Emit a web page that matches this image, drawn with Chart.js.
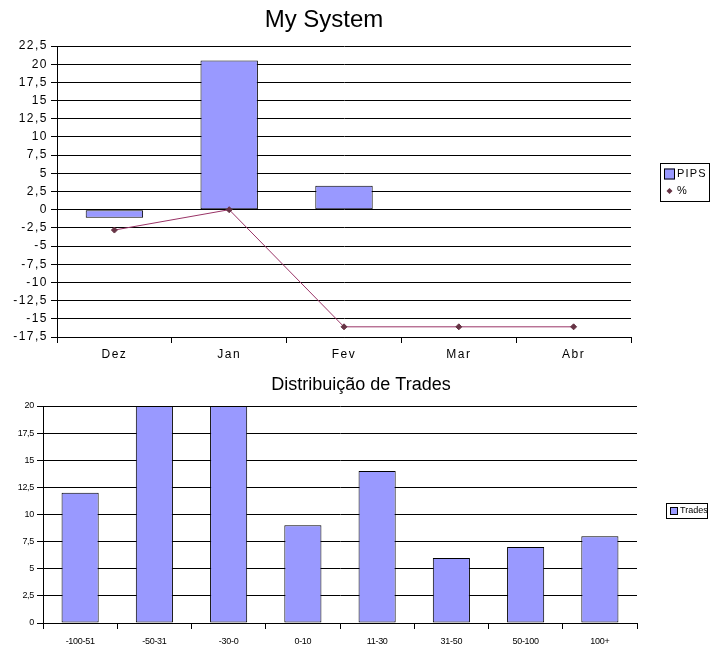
<!DOCTYPE html>
<html>
<head>
<meta charset="utf-8">
<title>My System</title>
<script src="https://cdn.jsdelivr.net/npm/chart.js@4.4.1/dist/chart.umd.min.js"></script>
<style>
    html, body { margin: 0; padding: 0; background: #fff; }
    canvas { position: absolute; left: 0; }
    #systemChart { top: 0; }
    #tradesChart { top: 370px; }
</style>
</head>
<body>
<canvas id="systemChart" width="718" height="370"></canvas>
<canvas id="tradesChart" width="718" height="287"></canvas>
<script>
// Data
const months = ['Dez', 'Jan', 'Fev', 'Mar', 'Abr'];
const pipsValues = [-1.1, 20.5, 3.3, 0, 0];
const percentValues = [-2.8, 0, -16.1, -16.1, -16.1];
const systemTicks = [-17.5, -15, -12.5, -10, -7.5, -5, -2.5, 0, 2.5, 5, 7.5, 10, 12.5, 15, 17.5, 20, 22.5];

const tradeRanges = ['-100-51', '-50-31', '-30-0', '0-10', '11-30', '31-50', '50-100', '100+'];
const tradeCounts = [12, 20, 20, 9, 14, 6, 7, 8];
const tradeTicks = [0, 2.5, 5, 7.5, 10, 12.5, 15, 17.5, 20];

const FONT = '"Liberation Sans", Arial, sans-serif';
const BAR_FILL = '#9999ff';
const LINE_COLOR = '#993366';
const MARKER_COLOR = '#663344';

Chart.defaults.font.family = FONT;
Chart.defaults.color = '#000';

// comma decimals, like the original sheet
const fmt = v => String(v).replace('.', ',');

// Title drawn at a fixed spot
const titlePlugin = {
    id: 'fixedTitle',
    afterDraw(chart, args, opts) {
        const ctx = chart.ctx;
        ctx.save();
        ctx.letterSpacing = '0px';
        ctx.font = `${opts.size}px ${FONT}`;
        ctx.fillStyle = '#000';
        ctx.textAlign = 'center';
        ctx.textBaseline = 'middle';
        ctx.fillText(opts.text, opts.x, opts.y);
        ctx.restore();
    }
};

// Spread-out axis text (the old sheet stretches its labels)
const tickSpacingPlugin = {
    id: 'tickSpacing',
    beforeDraw(chart, args, opts) {
        chart.ctx.letterSpacing = opts.spacing;
    },
    beforeDatasetsDraw(chart) {
        chart.ctx.letterSpacing = '0px';
    }
};

// Boxed legend at the right, like the spreadsheet one
const boxLegendPlugin = {
    id: 'boxLegend',
    afterDraw(chart, args, opts) {
        const ctx = chart.ctx;
        ctx.save();
        ctx.fillStyle = '#fff';
        ctx.fillRect(opts.x, opts.y, opts.w, opts.h);
        ctx.strokeStyle = '#000';
        ctx.lineWidth = 1;
        ctx.strokeRect(opts.x + 0.5, opts.y + 0.5, opts.w - 1, opts.h - 1);
        ctx.font = `${opts.size}px ${FONT}`;
        ctx.letterSpacing = opts.spacing;
        ctx.textBaseline = 'middle';
        ctx.textAlign = 'left';
        chart.data.datasets.forEach((ds, i) => {
            const cy = opts.y + opts.first + i * opts.row;
            const sx = opts.x + 4;
            if (ds.type === 'line') {
                const r = 3;
                const cx = sx + opts.box / 2;
                ctx.fillStyle = MARKER_COLOR;
                ctx.beginPath();
                ctx.moveTo(cx, cy - r);
                ctx.lineTo(cx + r, cy);
                ctx.lineTo(cx, cy + r);
                ctx.lineTo(cx - r, cy);
                ctx.closePath();
                ctx.fill();
            } else {
                ctx.fillStyle = BAR_FILL;
                ctx.fillRect(sx, cy - opts.box / 2, opts.box, opts.box);
                ctx.strokeStyle = '#000';
                ctx.strokeRect(sx + 0.5, cy - opts.box / 2 + 0.5, opts.box - 1, opts.box - 1);
            }
            ctx.fillStyle = '#000';
            ctx.fillText(ds.label, sx + opts.box + 2, cy);
        });
        ctx.restore();
    }
};

function valueAxis(ticks, width, fontSize) {
    return {
        min: ticks[0],
        max: ticks[ticks.length - 1],
        afterBuildTicks: scale => { scale.ticks = ticks.map(v => ({ value: v })); },
        afterFit: scale => { scale.width = width; },
        ticks: {
            callback: v => fmt(v),
            font: { size: fontSize },
            padding: 3,
            color: '#000'
        },
        grid: {
            color: '#000',
            lineWidth: 1,
            tickLength: 6
        },
        border: { display: true, color: '#000', width: 1 }
    };
}

function categoryAxis(height, fontSize, pad) {
    return {
        afterFit: scale => { scale.height = height; },
        ticks: {
            font: { size: fontSize },
            padding: pad,
            color: '#000',
            maxRotation: 0,
            autoSkip: false
        },
        grid: {
            offset: true,
            drawOnChartArea: false,
            drawTicks: true,
            tickLength: 6,
            color: '#000'
        },
        border: { display: true, color: '#000', width: 1 }
    };
}

new Chart(document.getElementById('systemChart'), {
    type: 'bar',
    data: {
        labels: months,
        datasets: [
            {
                label: 'PIPS',
                data: pipsValues,
                backgroundColor: BAR_FILL,
                borderColor: '#000',
                borderWidth: 1,
                borderSkipped: false,
                categoryPercentage: 0.5,
                barPercentage: 1,
                order: 2
            },
            {
                type: 'line',
                label: '%',
                data: percentValues,
                borderColor: LINE_COLOR,
                borderWidth: 1,
                pointStyle: 'rectRot',
                pointRadius: 3,
                pointBackgroundColor: MARKER_COLOR,
                pointBorderColor: MARKER_COLOR,
                tension: 0,
                order: 1
            }
        ]
    },
    options: {
        responsive: false,
        animation: false,
        devicePixelRatio: 1,
        layout: { padding: { top: 46, right: 87, left: 0, bottom: 0 } },
        scales: {
            x: categoryAxis(33, 12, 4),
            y: valueAxis(systemTicks, 57, 12)
        },
        plugins: {
            legend: { display: false },
            tooltip: { enabled: false },
            tickSpacing: { spacing: '1.5px' },
            fixedTitle: { text: 'My System', x: 324, y: 20, size: 24 },
            boxLegend: { x: 660, y: 163, w: 50, h: 39, box: 11, first: 11, row: 17, size: 11, spacing: '1.2px' }
        }
    },
    plugins: [tickSpacingPlugin, titlePlugin, boxLegendPlugin]
});

new Chart(document.getElementById('tradesChart'), {
    type: 'bar',
    data: {
        labels: tradeRanges,
        datasets: [
            {
                label: 'Trades',
                data: tradeCounts,
                backgroundColor: BAR_FILL,
                borderColor: '#000',
                borderWidth: 1,
                borderSkipped: false,
                categoryPercentage: 0.5,
                barPercentage: 1
            }
        ]
    },
    options: {
        responsive: false,
        animation: false,
        devicePixelRatio: 1,
        layout: { padding: { top: 36, right: 81, left: 0, bottom: 0 } },
        scales: {
            x: categoryAxis(34, 9, 7),
            y: valueAxis(tradeTicks, 43, 9)
        },
        plugins: {
            legend: { display: false },
            tooltip: { enabled: false },
            tickSpacing: { spacing: '-0.3px' },
            fixedTitle: { text: 'Distribuição de Trades', x: 361, y: 15, size: 18 },
            boxLegend: { x: 666, y: 133, w: 42, h: 16, box: 8, first: 8, row: 14, size: 9, spacing: '0px' }
        }
    },
    plugins: [tickSpacingPlugin, titlePlugin, boxLegendPlugin]
});
</script>
</body>
</html>
